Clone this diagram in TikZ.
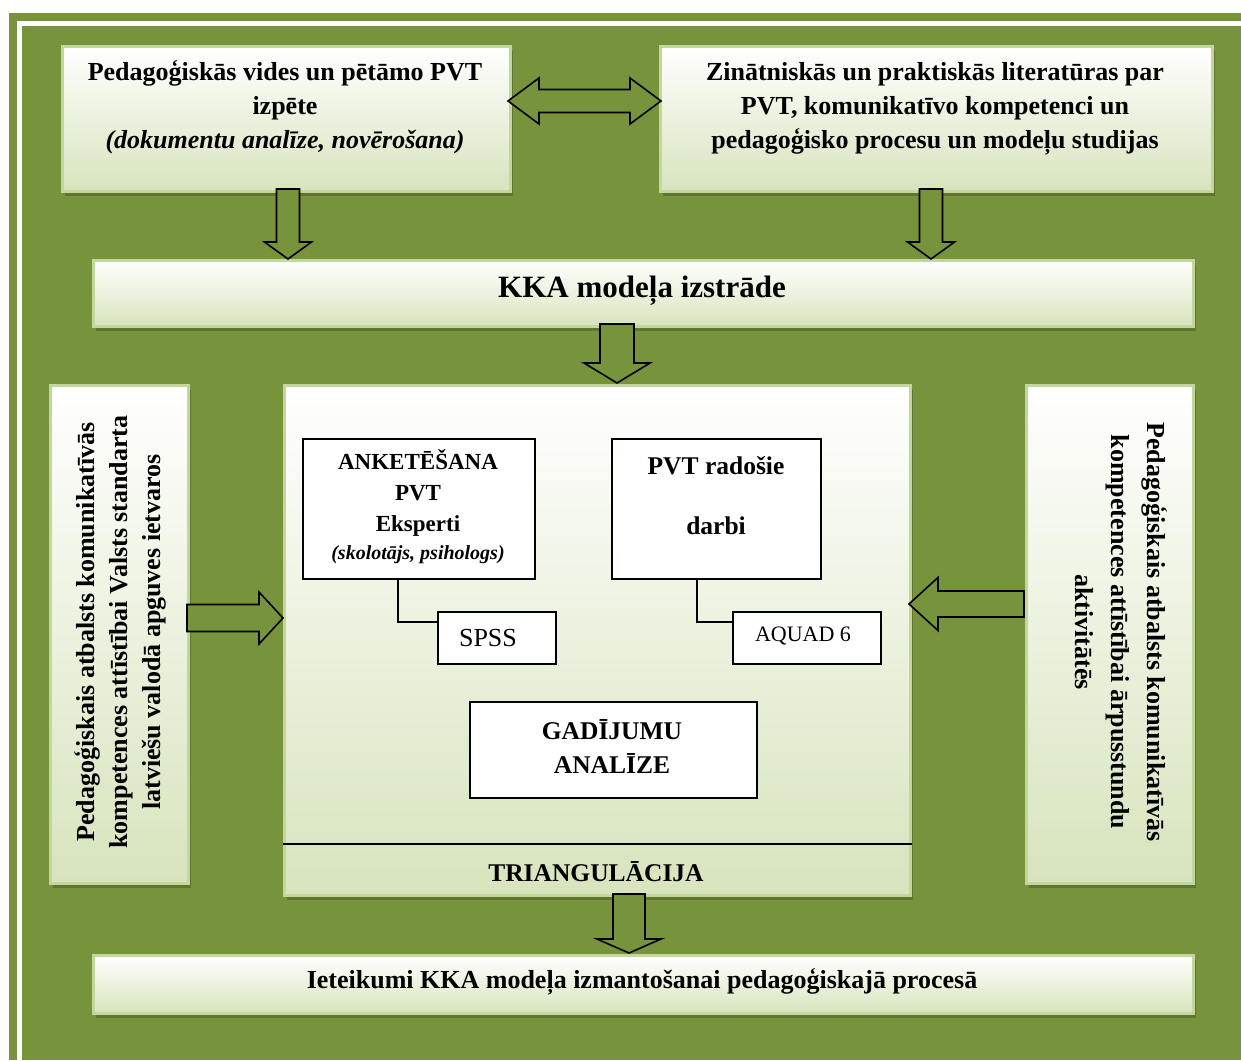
\documentclass[tikz,border=0pt]{standalone}
\usepackage{fontspec}
\setmainfont{Liberation Serif}
\usetikzlibrary{calc,shadows}

\definecolor{olivebg}{HTML}{77933C}
\definecolor{palegreen}{HTML}{D7E4BD}
\definecolor{rimgreen}{HTML}{C3D69B}
\definecolor{shadegreen}{HTML}{5F7530}

\tikzset{
  panel/.style={rectangle, draw=rimgreen, line width=2.5pt, top color=white,
    bottom color=palegreen, inner sep=0pt, anchor=north west,
    general shadow={fill=shadegreen, shadow xshift=2.5pt, shadow yshift=-5pt}},
  whitebox/.style={rectangle, draw=black, fill=white, line width=1.8pt,
    inner sep=0pt, anchor=north west},
  arrowshape/.style={draw=black, fill=olivebg, line width=1.6pt, line join=miter},
  link/.style={draw=black, line width=1.5pt},
  maintext/.style={align=center, font=\bfseries\fontsize{26}{34}\selectfont},
  boxtext/.style={align=center, font=\bfseries\fontsize{23}{31}\selectfont},
}

% single block arrow: #1 tail, #2 tip, #3 shaft half width, #4 head half width, #5 head length
\newcommand\blockarrow[5]{%
  \coordinate (ba-h) at ($(#2)!#5!(#1)$);
  \draw[arrowshape] ($(#1)!#3!90:(#2)$) -- ($(ba-h)!#3!90:(#2)$)
    -- ($(ba-h)!#4!90:(#2)$) -- (#2) -- ($(ba-h)!#4!-90:(#2)$)
    -- ($(ba-h)!#3!-90:(#2)$) -- ($(#1)!#3!-90:(#2)$) -- cycle;}

% double block arrow: #1 and #2 tips, #3 shaft half width, #4 head half width, #5 head length
\newcommand\doublearrow[5]{%
  \coordinate (da-a) at ($(#1)!#5!(#2)$);
  \coordinate (da-b) at ($(#2)!#5!(#1)$);
  \draw[arrowshape] (#1) -- ($(da-a)!#4!90:(#2)$) -- ($(da-a)!#3!90:(#2)$)
    -- ($(da-b)!#3!-90:(#1)$) -- ($(da-b)!#4!-90:(#1)$) -- (#2)
    -- ($(da-b)!#4!90:(#1)$) -- ($(da-b)!#3!90:(#1)$)
    -- ($(da-a)!#3!-90:(#2)$) -- ($(da-a)!#4!-90:(#2)$) -- cycle;}

\begin{document}
\begin{tikzpicture}[x=1pt, y=-1pt]
  \useasboundingbox (0,0) rectangle (1241,1060);
  \fill[white] (0,0) rectangle (1241,1060);

  % frame
  \fill[olivebg] (9,13) rectangle (1241,1060);
  \draw[white, line width=5pt] (19.5,1060) -- (19.5,23.5) -- (1241,23.5);

  % panels
  \node[panel, minimum width=448pt, minimum height=145pt] (tl) at (61,45) {};
  \node[panel, minimum width=552pt, minimum height=145pt] (tr) at (659,45) {};
  \node[panel, minimum width=1100pt, minimum height=66pt] (kka) at (92,259) {};
  \node[panel, minimum width=138pt, minimum height=498pt] (lv) at (49,384) {};
  \node[panel, minimum width=626pt, minimum height=510pt] (core) at (283,384) {};
  \node[panel, minimum width=167pt, minimum height=498pt] (rv) at (1025,384) {};
  \node[panel, minimum width=1100pt, minimum height=58pt] (rec) at (92,954) {};

  % panel texts
  \node[maintext] (tlt) at (285,107) {Pedagoģiskās vides un pētāmo PVT\\izpēte\\\textit{(dokumentu analīze, novērošana)}};
  \node[maintext] (trt) at (935,109) {Zinātniskās un praktiskās literatūras par\\PVT, komunikatīvo kompetenci un\\pedagoģisko procesu un modeļu studijas};
  \node[font=\bfseries\fontsize{31}{34}\selectfont] (kkat) at (642,291) {KKA modeļa izstrāde};
  \node[maintext, font=\bfseries\fontsize{26}{33}\selectfont, rotate=90] (lvt) at (120,632)
    {Pedagoģiskais atbalsts komunikatīvās\\kompetences attīstībai Valsts standarta\\latviešu valodā apguves ietvaros};
  \node[maintext, font=\bfseries\fontsize{26}{36}\selectfont, rotate=-90] (rvt) at (1121,632)
    {Pedagoģiskais atbalsts komunikatīvās\\kompetences attīstībai ārpusstundu\\aktivitātēs};
  \node[maintext] (rect) at (642,982) {Ieteikumi KKA modeļa izmantošanai pedagoģiskajā procesā};

  % core contents
  \draw[black, line width=1.5pt] (core.west |- 0,844) -- (core.east |- 0,844);
  \node[boxtext, font=\bfseries\fontsize{25.5}{34}\selectfont] (tri) at (596,872) {TRIANGULĀCIJA};

  \node[whitebox, minimum width=232pt, minimum height=140pt] (ank) at (302,438) {};
  \node[boxtext] (ankt) at (418,507) {ANKETĒŠANA\\PVT\\Eksperti\\[-3pt]{\fontsize{20}{24}\selectfont\itshape (skolotājs, psihologs)}};
  \node[whitebox, minimum width=118pt, minimum height=52pt] (spss) at (437,611) {};
  \node[font=\fontsize{26}{30}\selectfont] (spsst) at (488,638) {SPSS};

  \node[whitebox, minimum width=209pt, minimum height=140pt] (pvt) at (611,438) {};
  \node[boxtext, font=\bfseries\fontsize{25.5}{30}\selectfont] (pvtt) at (716,496) {PVT radošie\\[30pt]darbi};
  \node[whitebox, minimum width=148pt, minimum height=52pt] (aq) at (732,611) {};
  \node[font=\fontsize{22}{26}\selectfont] (aqt) at (803,636) {AQUAD 6};

  \node[whitebox, minimum width=287pt, minimum height=96pt] (gad) at (469,701) {};
  \node[boxtext, font=\bfseries\fontsize{25.5}{34}\selectfont] (gadt) at (612,746) {GADĪJUMU\\ANALĪZE};

  \draw[link] ($(ank.south west)+(96,0)$) |- ($(spss.north west)+(0,11)$);
  \draw[link] ($(pvt.south west)+(86,0)$) |- ($(aq.north west)+(0,11)$);

  % block arrows
  \coordinate (tl-e) at (508,101);
  \coordinate (tr-w) at (661,101);
  \doublearrow{tl-e}{tr-w}{11.5pt}{23pt}{31pt}

  \coordinate (tl-s) at (288,189);
  \coordinate (kka-nl) at (288,259);
  \blockarrow{tl-s}{kka-nl}{11.5pt}{23.5pt}{17pt}

  \coordinate (tr-s) at (931,189);
  \coordinate (kka-nr) at (931,259);
  \blockarrow{tr-s}{kka-nr}{11.5pt}{23.5pt}{17pt}

  \coordinate (kka-s) at (617,324);
  \coordinate (core-n) at (617,383);
  \blockarrow{kka-s}{core-n}{17pt}{33pt}{20pt}

  \coordinate (lv-e) at (187,618);
  \coordinate (core-w) at (283,618);
  \blockarrow{lv-e}{core-w}{13.5pt}{26pt}{24pt}

  \coordinate (rv-w) at (1024,604);
  \coordinate (core-e) at (909,604);
  \blockarrow{rv-w}{core-e}{13pt}{26.5pt}{29pt}

  \coordinate (core-s) at (629,894);
  \coordinate (rec-n) at (629,953);
  \blockarrow{core-s}{rec-n}{16pt}{32pt}{14pt}
\end{tikzpicture}
\end{document}
